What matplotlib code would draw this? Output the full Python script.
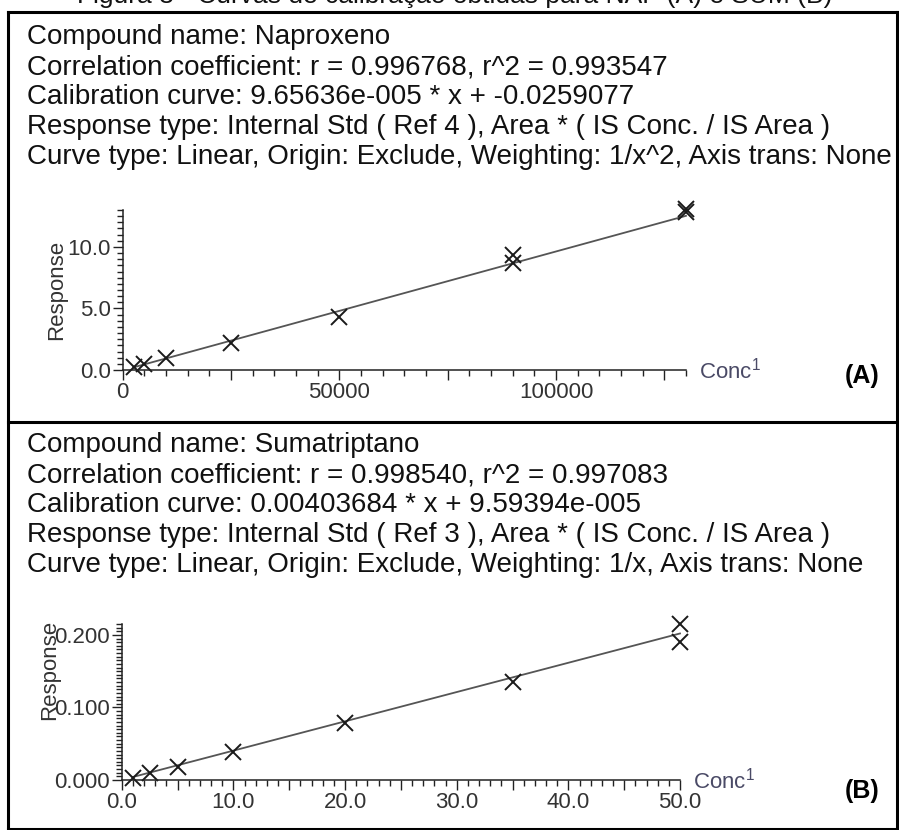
import matplotlib
matplotlib.use("Agg")
from matplotlib import pyplot as plt
from matplotlib.ticker import MultipleLocator

plt.rcParams['mathtext.default'] = 'regular'

# ---- panel A: Naproxeno ----
conc_a = [2500, 5000, 10000, 25000, 50000, 90000, 90000, 130000, 130000]
resp_a = [0.22, 0.45, 0.96, 2.2, 4.32, 9.38, 8.68, 13.05, 12.8]
slope_a, icpt_a = 9.65636e-005, -0.0259077
header_a = ["Compound name: Naproxeno",
            "Correlation coefficient: r = 0.996768, r^2 = 0.993547",
            "Calibration curve: 9.65636e-005 * x + -0.0259077",
            "Response type: Internal Std ( Ref 4 ), Area * ( IS Conc. / IS Area )",
            "Curve type: Linear, Origin: Exclude, Weighting: 1/x^2, Axis trans: None"]

# ---- panel B: Sumatriptano ----
conc_b = [1.0, 2.5, 5.0, 10.0, 20.0, 35.0, 50.0, 50.0]
resp_b = [0.0023, 0.0101, 0.0183, 0.039, 0.078, 0.1356, 0.215, 0.1908]
slope_b, icpt_b = 0.00403684, 9.59394e-005
header_b = ["Compound name: Sumatriptano",
            "Correlation coefficient: r = 0.998540, r^2 = 0.997083",
            "Calibration curve: 0.00403684 * x + 9.59394e-005",
            "Response type: Internal Std ( Ref 3 ), Area * ( IS Conc. / IS Area )",
            "Curve type: Linear, Origin: Exclude, Weighting: 1/x, Axis trans: None"]

caption = "Figura 3 - Curvas de calibração obtidas para NAP (A) e SUM (B)"

W, H = 899, 830
fig = plt.figure(figsize=(W / 100, H / 100), dpi=100)
arial = ['Liberation Sans', 'DejaVu Sans']


def px(x, y):
    # pixel coords (top-left origin) -> figure fraction
    return x / W, 1 - y / H


# caption of the page, cut off at the top edge like in the scan
fig.text(*px(455, 3), caption, ha='center', va='baseline', fontsize=19,
         family=arial, color='#111111')

# frame lines
for xs, ys in [([8, 897], [12, 12]), ([8, 897], [422, 422]), ([8, 897], [829, 829]),
               ([8, 8], [12, 829]), ([897, 897], [12, 829])]:
    fig.add_artist(plt.Line2D([x / W for x in xs], [1 - y / H for y in ys],
                              color='black', lw=2.2))


def panel(rect, conc, resp, slope, icpt, xmax, ymax, xmaj, xmin_, xlab, xfmt,
          ymaj, ymin_, ylab, yfmt):
    ax = fig.add_axes(rect)
    ax.set_xlim(0, xmax)
    ax.set_ylim(0, ymax)
    for s in ['top', 'right']:
        ax.spines[s].set_visible(False)
    for s in ['left', 'bottom']:
        ax.spines[s].set_color('#222222')
        ax.spines[s].set_linewidth(1.1)
    ax.xaxis.set_major_locator(MultipleLocator(xmaj))
    ax.xaxis.set_minor_locator(MultipleLocator(xmin_))
    ax.yaxis.set_major_locator(MultipleLocator(ymaj))
    ax.yaxis.set_minor_locator(MultipleLocator(ymin_))

    def xf(v, pos):
        return xfmt % v if abs(v / xlab - round(v / xlab)) < 1e-6 else ''

    def yf(v, pos):
        return yfmt % v if abs(v / ylab - round(v / ylab)) < 1e-6 else ''
    ax.xaxis.set_major_formatter(plt.FuncFormatter(xf))
    ax.yaxis.set_major_formatter(plt.FuncFormatter(yf))
    ax.tick_params(which='major', length=7.5, width=1.0, color='#222222',
                   labelsize=16, labelcolor='#333333', pad=1)
    ax.tick_params(which='minor', length=4, width=1.0, color='#222222')
    for lab in ax.get_xticklabels() + ax.get_yticklabels():
        lab.set_family(arial)
    xs = [min(conc), max(conc)]
    ax.plot(xs, [slope * v + icpt for v in xs], color='#555555', lw=1.3, clip_on=False)
    ax.plot(conc, resp, ls='none', marker='x', ms=11, mew=1.4, color='#1a1a1a',
            clip_on=False)
    return ax


# panel A axes: x 0..130000 -> px 122.7..686, y 0..13 -> px 370..210
axA = panel([122.7 / W, 1 - 370 / H, 563.3 / W, 160 / H], conc_a, resp_a, slope_a, icpt_a,
            130000, 13, 25000, 5000, 50000, '%d', 5, 0.5, 5, '%.1f')
# panel B axes: x 0..50 -> px 121.7..680, y 0..0.215 -> px 780..624
axB = panel([121.7 / W, 1 - 780 / H, 558.3 / W, 156 / H], conc_b, resp_b, slope_b, icpt_b,
            50, 0.215, 5, 1, 10, '%.1f', 0.1, 0.005, 0.1, '%.3f')

# header texts
for lines, y0 in [(header_a, 37), (header_b, 445)]:
    for i, line in enumerate(lines):
        fig.text(*px(27, y0 + 30 * i), line, ha='left', va='center', fontsize=20,
                 family=arial, color='#111111')

# axis titles (in panel B the title runs over the 0.100 label, as in the original)
for yc in [(57, 290), (50, 670)]:
    fig.text(*px(*yc), "Response", rotation=90, ha='center', va='center',
             fontsize=16, family=arial, color='#333333')
for xy in [(699, 371), (693, 781)]:
    fig.text(*px(*xy), "Conc$^1$", ha='left', va='center', fontsize=16,
             family=arial, color='#4a4a66')

fig.text(*px(862, 376), "(A)", ha='center', va='center', fontsize=18,
         fontweight='bold', family=arial, color='black')
fig.text(*px(862, 791), "(B)", ha='center', va='center', fontsize=18,
         fontweight='bold', family=arial, color='black')

fig.savefig('out.png', dpi=100)
